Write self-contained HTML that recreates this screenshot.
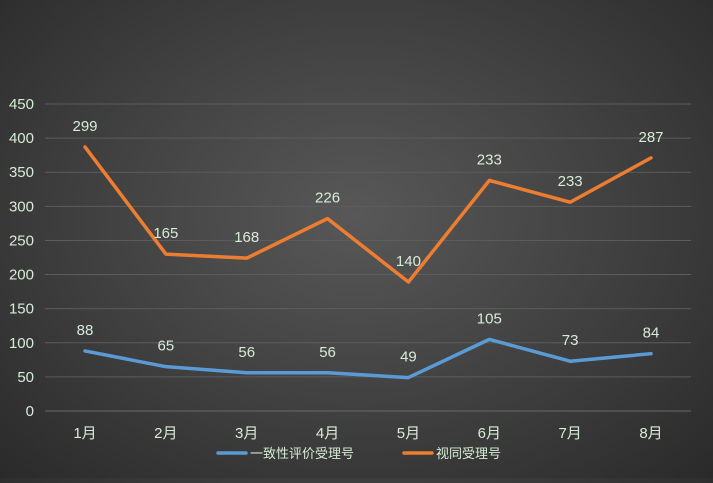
<!DOCTYPE html>
<html><head><meta charset="utf-8">
<style>
html,body{margin:0;padding:0;}
body{width:713px;height:478px;overflow:hidden;background:radial-gradient(ellipse at 50% 45%,#585858 0%,#3f3f3f 55%,#2a2a2a 100%);font-family:"Liberation Sans","Noto Sans CJK SC",sans-serif;}
svg text{font-family:"Liberation Sans","Noto Sans CJK SC",sans-serif;}
</style></head><body>
<svg id="chart" width="713" height="478" xmlns="http://www.w3.org/2000/svg"></svg>
<script>
const categories=["1月","2月","3月","4月","5月","6月","7月","8月"];
const seriesA=[88,65,56,56,49,105,73,84];
const seriesB=[299,165,168,226,140,233,233,287];
const yTicks=[0,50,100,150,200,250,300,350,400,450];
const svg=document.getElementById('chart');
const NS='http://www.w3.org/2000/svg';
const y0=411,yTop=104,yMax=450;
function ys(v){return y0-(v/yMax)*(y0-yTop);}
function xs(i){return 85+i*(651-85)/(categories.length-1);}
function mk(t,a,p){const e=document.createElementNS(NS,t);for(const k in a)e.setAttribute(k,a[k]);(p||svg).appendChild(e);return e;}
const lbl='#d6ecd6';
yTicks.forEach(v=>{
 const g=mk('line',{x1:45,x2:691,y1:ys(v),y2:ys(v),stroke:v===0?'#6a6a6a':'#5c5c5c','stroke-width':1});
 
 
 const t=mk('text',{x:34,y:ys(v)+5,'text-anchor':'end',fill:lbl,'font-size':15});
 t.textContent=v;
 
 
});
categories.forEach((c,i)=>{
 const t=mk('text',{x:xs(i),y:438,'text-anchor':'middle',fill:lbl,'font-size':15});
 t.textContent=c;
 
 
});
const stacked=seriesB.map((v,i)=>v+seriesA[i]);
function drawSeries(vals,labels,color,name){
 const p=mk('polyline',{points:vals.map((v,i)=>xs(i)+','+ys(v)).join(' '),fill:'none',stroke:color,'stroke-width':3.5,'stroke-linejoin':'round','stroke-linecap':'round'});
 
 
 vals.forEach((v,i)=>{
  const t=mk('text',{x:xs(i),y:ys(v)-16,'text-anchor':'middle',fill:lbl,'font-size':15});
  t.textContent=labels[i];
  
  
 });
}
drawSeries(seriesA,seriesA,'#5b9bd5','consistency-series');
drawSeries(stacked,seriesB,'#ed7d31','equivalent-series');
const l1=mk('line',{x1:218,x2:246,y1:453,y2:453,stroke:'#5b9bd5','stroke-width':3.5,'stroke-linecap':'round'});


const t1=mk('text',{x:250,y:458,fill:lbl,'font-size':13});
t1.textContent='一致性评价受理号';


const l2=mk('line',{x1:404,x2:432,y1:453,y2:453,stroke:'#ed7d31','stroke-width':3.5,'stroke-linecap':'round'});


const t2=mk('text',{x:436,y:458,fill:lbl,'font-size':13});
t2.textContent='视同受理号';


</script>
</body></html>
